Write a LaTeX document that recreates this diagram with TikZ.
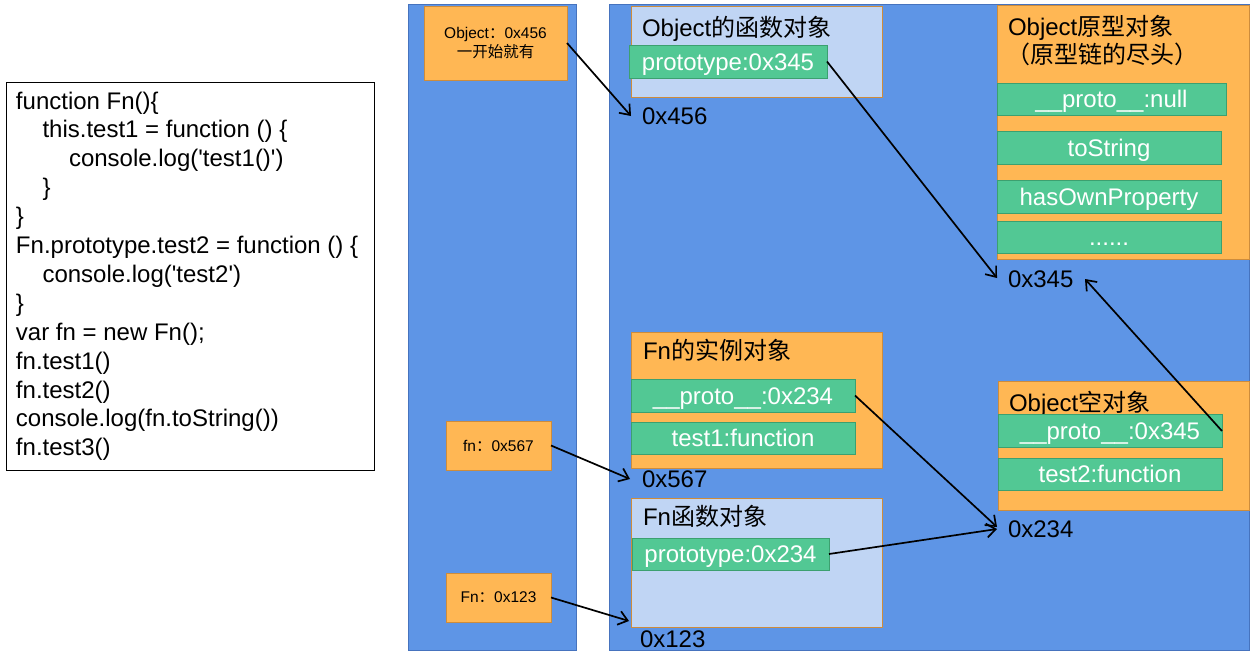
\documentclass[tikz,border=0pt]{standalone}
\usepackage{fontspec}
\setmainfont{Liberation Sans}[Ligatures=TeXOff]
\newfontfamily\cjk{Noto Sans CJK SC}
\usetikzlibrary{arrows.meta}
\definecolor{bluef}{RGB}{94,149,230}
\definecolor{blued}{RGB}{70,115,190}
\definecolor{orf}{RGB}{255,183,84}
\definecolor{ord}{RGB}{205,140,60}
\definecolor{lbf}{RGB}{192,213,244}
\definecolor{grf}{RGB}{82,200,148}
\definecolor{grd}{RGB}{60,160,112}
\begin{document}
\begin{tikzpicture}[x=1pt,y=-1pt,
  every node/.style={inner sep=0pt, outer sep=0pt},
  area/.style={draw=blued, fill=bluef, line width=0.8pt, anchor=north west},
  obox/.style={draw=ord, fill=orf, line width=0.8pt, anchor=north west},
  lbox/.style={draw=ord, fill=lbf, line width=0.8pt, anchor=north west},
  gbox/.style={draw=grd, fill=grf, line width=0.8pt, anchor=north west, text=white,
    font=\fontsize{24}{29}\selectfont, text height=17pt, text depth=0pt},
  small/.style={font=\fontsize{15.5}{19}\selectfont, align=center},
  big/.style={font=\fontsize{24}{29}\selectfont, anchor=base west},
  codeline/.style={font=\fontsize{24}{29}\selectfont, anchor=base west},
  ptr/.style={line width=1.7pt, -{Straight Barb[length=9pt,width=14pt,line width=1.7pt]}}
]
\useasboundingbox (0,0) rectangle (1253,654);
\fill[white] (0,0) rectangle (1253,654);

% code box
\node[draw=black, fill=white, line width=0.8pt, anchor=north west, minimum width=368, minimum height=388] (code) at (6,82) {};
\node[codeline] (c1) at (16,109) {function Fn()\{};
\node[codeline] (c2) at (42.5,137.9) {this.test1 = function () \{};
\node[codeline] (c3) at (69,166.8) {console.log('test1()')};
\node[codeline] (c4) at (42.5,195.7) {\}};
\node[codeline] (c5) at (16,224.6) {\}};
\node[codeline] (c6) at (16,253.5) {Fn.prototype.test2 = function () \{};
\node[codeline] (c7) at (42.5,282.4) {console.log('test2')};
\node[codeline] (c8) at (16,311.3) {\}};
\node[codeline] (c9) at (16,340.2) {var fn = new Fn();};
\node[codeline] (c10) at (16,369.1) {fn.test1()};
\node[codeline] (c11) at (16,398) {fn.test2()};
\node[codeline] (c12) at (16,426.9) {console.log(fn.toString())};
\node[codeline] (c13) at (16,455.8) {fn.test3()};

% stack and heap areas
\node[area, minimum width=168, minimum height=646] (stack) at (408,4) {};
\node[area, minimum width=640, minimum height=646] (heap) at (609,4) {};

% stack entries
\node[obox, minimum width=143, minimum height=74, small] (vobj) at (424,6) {Object{\cjk ：}0x456\\{\cjk 一开始就有}};
\node[obox, minimum width=105, minimum height=49, small] (vfn) at (446,421) {fn{\cjk ：}0x567};
\node[obox, minimum width=105, minimum height=49, small] (vFn) at (446,573) {Fn{\cjk ：}0x123};

% Object function object
\node[lbox, minimum width=251, minimum height=91] (objfun) at (631,6) {};
\node[big] (objfunT) at (642,36) {Object{\cjk 的函数对象}};
\node[gbox, minimum width=198, minimum height=33] (p345) at (629,45) {prototype:0x345};
\node[big] (a456) at (642,124) {0x456};

% Object prototype object
\node[obox, minimum width=252, minimum height=254] (objproto) at (997,5) {};
\node[big] (objprotoT) at (1008,35) {Object{\cjk 原型对象}};
\node[big] (objprotoT2) at (1006,63) {\cjk （原型链的尽头）};
\node[gbox, minimum width=229, minimum height=32] (pnull) at (997,83) {\_\_proto\_\_:null};
\node[gbox, minimum width=224, minimum height=33] (tostr) at (997,131) {toString};
\node[gbox, minimum width=224, minimum height=33] (hasown) at (997,180) {hasOwnProperty};
\node[gbox, minimum width=224, minimum height=32] (dots) at (997,221) {......};
\node[big] (a345) at (1008,287) {0x345};

% Fn instance
\node[obox, minimum width=251, minimum height=136] (inst) at (631,332) {};
\node[big] (instT) at (643,359) {Fn{\cjk 的实例对象}};
\node[gbox, minimum width=224, minimum height=33] (p234i) at (631,379) {\_\_proto\_\_:0x234};
\node[gbox, minimum width=224, minimum height=32] (t1) at (631,422) {test1:function};
\node[big] (a567) at (642,487) {0x567};

% Fn function object
\node[lbox, minimum width=251, minimum height=129] (fnfun) at (631,498) {};
\node[big] (fnfunT) at (643,525) {Fn{\cjk 函数对象}};
\node[gbox, minimum width=197, minimum height=32] (p234) at (632,538) {prototype:0x234};
\node[big] (a123) at (640,647) {0x123};

% Object empty object
\node[obox, minimum width=251, minimum height=129] (empty) at (998,381) {};
\node[big] (emptyT) at (1009,411) {Object{\cjk 空对象}};
\node[gbox, minimum width=224, minimum height=33] (p345e) at (998,414) {\_\_proto\_\_:0x345};
\node[gbox, minimum width=224, minimum height=32] (t2) at (998,458) {test2:function};
\node[big] (a234) at (1008,537) {0x234};

% pointer targets
\coordinate (e456) at (631,116);
\coordinate (e345l) at (997,278);
\coordinate (e345r) at (1085,279);
\coordinate (e567) at (630,479);
\coordinate (e123) at (629,621);
\coordinate (e234a) at (997,527);
\coordinate (e234b) at (997,529);
\coordinate (s345e) at (1222,431);

% pointers
\draw[ptr] (vobj.east) -- (e456);
\draw[ptr] (p345.east) -- (e345l);
\draw[ptr] (s345e) -- (e345r);
\draw[ptr] (vfn.east) -- (e567);
\draw[ptr] (vFn.east) -- (e123);
\draw[ptr] (p234i.east) -- (e234a);
\draw[ptr] (p234.east) -- (e234b);
\end{tikzpicture}
\end{document}
